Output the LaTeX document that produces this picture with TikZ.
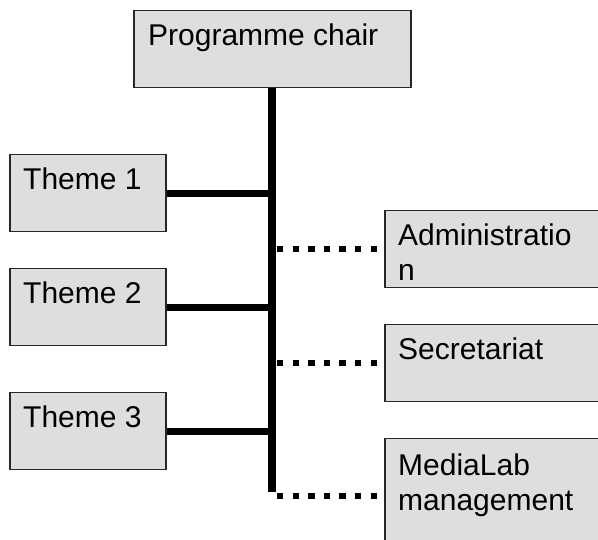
\documentclass[tikz,border=0pt]{standalone}
\usepackage{fontspec}
\setmainfont{Liberation Sans}
\usepackage{tikz}

\begin{document}
\begin{tikzpicture}[x=1pt,y=-1pt,
  box/.style={draw=black!85,fill=black!13,line width=1.5pt,anchor=north west,inner sep=0,minimum width=#1},
  box/.default=156,
  boxtext/.style={anchor=north west,inner sep=0,align=left,font=\fontsize{30}{35}\selectfont},
  solidlink/.style={line width=7pt},
  trunk/.style={line width=8pt},
  dotlink/.style={line width=6.5pt,dash pattern=on 6.5pt off 9.1pt,dash phase=8.6pt}]
\useasboundingbox (0,0) rectangle (598,540);
\clip (0,0) rectangle (598,540);
% boxes
\node[box=277,minimum height=77] (chair) at (133,10) {};
\node[box,minimum height=77] (t1) at (9,154) {};
\node[box,minimum height=77] (t2) at (9,268) {};
\node[box,minimum height=77] (t3) at (9,392) {};
\node[box=240,minimum height=77] (adm) at (384,210) {};
\node[box=240,minimum height=77] (sec) at (384,324) {};
\node[box=240,minimum height=120] (media) at (384,438) {};
% texts
\node[boxtext] (chairtxt) at ([shift={(15,14)}]chair.north west) {Programme chair};
\node[boxtext] (t1txt) at ([shift={(14,14)}]t1.north west) {Theme 1};
\node[boxtext] (t2txt) at ([shift={(14,14)}]t2.north west) {Theme 2};
\node[boxtext] (t3txt) at ([shift={(14,14)}]t3.north west) {Theme 3};
\node[boxtext] (admtxt) at ([shift={(14,14)}]adm.north west) {Administratio\\n};
\node[boxtext] (sectxt) at ([shift={(14,14)}]sec.north west) {Secretariat};
\node[boxtext] (mediatxt) at ([shift={(14,16)}]media.north west) {MediaLab\\management};
% lines
\coordinate (bottom) at (chair.south |- 0,496);
\draw[trunk] (chair.south) -- ([yshift=4pt]bottom);
\draw[solidlink] (t1.east) -- (t1.east -| chair.south);
\draw[solidlink] (t2.east) -- (t2.east -| chair.south);
\draw[solidlink] (t3.east) -- (t3.east -| chair.south);
\draw[dotlink] (adm.west) -- (adm.west -| chair.south);
\draw[dotlink] (sec.west) -- (sec.west -| chair.south);
\draw[dotlink] (media.west |- bottom) -- (bottom);
\end{tikzpicture}
\end{document}
